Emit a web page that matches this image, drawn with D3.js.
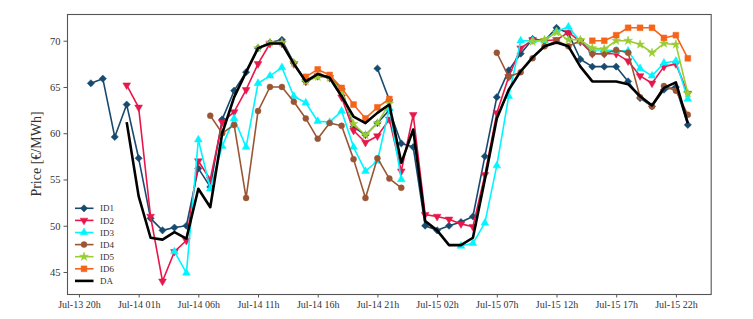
<!DOCTYPE html>
<html>
<head>
<meta charset="utf-8">
<script src="https://cdn.jsdelivr.net/npm/d3@7"></script>
<style>
  body { margin: 0; background: #fff; }
  svg text { font-family: "Liberation Serif", "DejaVu Serif", serif; }
</style>
</head>
<body>
<div id="canvas"></div>
<script>
// hours counted from Jul-13 20h, data runs Jul-13 21h .. Jul-15 23h
var hours = d3.range(1, 52);
var tickHours = [0, 5, 10, 15, 20, 25, 30, 35, 40, 45, 50];
var tickLabels = ["Jul-13 20h", "Jul-14 01h", "Jul-14 06h", "Jul-14 11h", "Jul-14 16h", "Jul-14 21h",
                  "Jul-15 02h", "Jul-15 07h", "Jul-15 12h", "Jul-15 17h", "Jul-15 22h"];
var yTicks = [45, 50, 55, 60, 65, 70];

var id1 = [65.4, 65.9, 59.6, 63.1, 57.3, 50.8, 49.5, 49.8, 50.0, 56.2,
           54.2, 61.5, 64.6, 66.6, 69.2, 69.8, 70.1, 67.6, 65.6, 66.2,
           66.0, 64.8, 60.7, 59.8, 61.1, 62.5, 58.9, 58.5, 50.0, 49.5,
           50.0, 50.4, 51.0, 57.5, 63.9, 66.8, 68.6, 70.2, 70.0, 71.4,
           70.8, 68.0, 67.2, 67.2, 67.2, 65.6, 63.8, 62.9, 64.7, 65.0, 60.9];
// short extra ID1 piece at Jul-14 21h/22h
var id1bHours = [25, 26];
var id1b = [67.0, 63.6];

var id2 = [null, null, null, 65.2, 62.8, 51.0, 44.0, 47.2, 48.4, 57.0,
           55.0, 61.2, 62.3, 64.7, 67.5, 69.7, 69.7, 67.5, 65.6, 66.2,
           66.0, 63.9, 60.3, 59.0, 59.7, 61.5, 55.9, 62.0, 51.2, 51.0,
           50.7, 50.2, 49.9, 55.5, 62.2, 66.1, 69.2, 70.1, 70.0, 70.1,
           70.9, 69.9, 68.6, 68.6, 68.6, 67.8, 66.2, 65.4, 67.2, 67.5, 64.3];

var id3 = [null, null, null, null, null, null, null, 47.2, 44.9, 59.3,
           54.0, 58.6, 61.6, 58.5, 65.4, 66.2, 67.1, 64.0, 63.3, 61.3,
           61.2, 62.4, 58.5, 55.9, 57.0, 62.7, 55.0, null, null, null,
           null, 47.8, 48.1, 50.3, 56.5, 64.0, 70.0, 70.0, 70.0, 71.0,
           71.5, 69.9, 69.0, 69.0, 68.9, 68.9, 67.0, 66.2, 67.6, 67.8, 63.7];

var id4 = [null, null, null, null, null, null, null, null, null, null,
           61.9, 60.0, 60.9, 53.0, 62.4, 65.0, 65.0, 63.4, 61.6, 59.4,
           61.1, 60.8, 57.2, 53.0, 57.3, 55.1, 54.1, null, null, null,
           null, null, null, null, 68.7, 66.1, 66.6, 68.1, 69.4, 70.0,
           69.4, 70.0, 68.6, 68.6, 69.0, 68.7, 63.9, 62.9, 65.1, 64.6, 62.0];

var id5 = [null, null, null, null, null, null, null, null, null, null,
           null, null, null, null, 69.2, 69.8, 69.8, 67.6, 65.6, 66.1,
           66.0, 64.6, 61.0, 59.8, 61.1, 63.2, null, null, null, null,
           null, null, null, null, null, null, null, 69.9, 70.1, 70.9,
           70.1, 70.1, 69.2, 69.1, 70.0, 70.0, 69.6, 68.7, 69.7, 69.6, 64.3];

var id6 = [null, null, null, null, null, null, null, null, null, null,
           null, null, null, null, null, null, null, null, 66.1, 66.9,
           66.3, 64.9, 63.1, 61.6, 62.8, 63.7, null, null, null, null,
           null, null, null, null, null, null, null, null, null, null,
           null, null, 70.0, 70.0, 70.6, 71.4, 71.4, 71.4, 70.3, 70.6, 68.1];

var da = [null, null, null, 61.2, 53.2, 48.7, 48.5, 49.3, 48.6, 54.0,
          52.0, 60.0, 63.9, 66.6, 69.2, 69.7, 69.7, 67.5, 65.6, 66.4,
          66.0, 64.0, 61.8, 61.1, 62.2, 63.1, 56.8, 60.4, 50.5, 49.5,
          47.9, 47.9, 48.7, 55.0, 61.6, 64.7, 66.7, 68.2, 69.4, 69.8,
          69.4, 67.2, 65.6, 65.6, 65.6, 65.3, 64.0, 63.0, 64.9, 65.5, 61.1];

var w = 753, h = 319;
var padL = 67, padR = 711.7, padT = 14, padB = 294;

var svg = d3.select("#canvas").append("svg").attr("width", w).attr("height", h);

var x = d3.scaleLinear().domain([-1, 53]).range([padL, padR]);
var y = d3.scaleLinear().domain([42.62, 72.89]).range([padB, padT]);

var tri = d3.symbol().type(d3.symbolTriangle).size(26);
var shapes = {
  diamond: { path: d3.symbol().type(d3.symbolSquare).size(26)(), rot: 45 },
  down: { path: tri(), rot: 180 },
  up: { path: tri(), rot: 0 },
  circle: { path: d3.symbol().type(d3.symbolCircle).size(28)(), rot: 0 },
  star: { path: d3.symbol().type(d3.symbolStar).size(24)(), rot: 0 },
  square: { path: d3.symbol().type(d3.symbolSquare).size(34)(), rot: 0 }
};

var series = [
  { name: "ID1", vals: id1, col: "#174a6e", shape: "diamond" },
  { name: "ID2", vals: id2, col: "#e8174b", shape: "down" },
  { name: "ID3", vals: id3, col: "#00f5ff", shape: "up" },
  { name: "ID4", vals: id4, col: "#9a5634", shape: "circle" },
  { name: "ID5", vals: id5, col: "#9acd32", shape: "star" },
  { name: "ID6", vals: id6, col: "#f4651a", shape: "square" },
  { name: "DA", vals: da, col: "#000000", shape: null }
];

var line = d3.line()
  .defined(function(d) { return d[1] != null; })
  .x(function(d) { return x(d[0]); })
  .y(function(d) { return y(d[1]); });

function drawMarkers(g, pts, s) {
  var sh = shapes[s.shape];
  g.selectAll(null).data(pts.filter(function(d) { return d[1] != null; }))
    .enter().append("path")
    .attr("d", sh.path)
    .attr("transform", function(d) { return "translate(" + x(d[0]) + "," + y(d[1]) + ") rotate(" + sh.rot + ")"; })
    .style("fill", s.col)
    .style("stroke", s.col)
    .style("stroke-width", 0.5);
}

var plot = svg.append("g");

series.forEach(function(s) {
  var g = plot.append("g");
  var pts = hours.map(function(hr, i) { return [hr, s.vals[i]]; });
  var isDA = s.shape == null;
  g.append("path").datum(pts).attr("d", line)
    .style("fill", "none")
    .style("stroke", s.col)
    .style("stroke-width", isDA ? 2.6 : 1.6)
    .style("stroke-linejoin", "round");
  if (s.name == "ID1") {
    var extra = id1bHours.map(function(hr, i) { return [hr, id1b[i]]; });
    g.append("path").datum(extra).attr("d", line)
      .style("fill", "none").style("stroke", s.col).style("stroke-width", 1.6);
    drawMarkers(g, extra, s);
  }
  if (!isDA) drawMarkers(g, pts, s);
});

// frame
svg.append("rect")
  .attr("x", padL + 0.5).attr("y", padT + 0.5)
  .attr("width", padR - padL - 1).attr("height", padB - padT)
  .style("fill", "none").style("stroke", "#555").style("stroke-width", 1.1);

// axes
var xAxis = d3.axisBottom(x).tickValues(tickHours)
  .tickFormat(function(d, i) { return tickLabels[i]; })
  .tickSizeInner(3.5).tickSizeOuter(0).tickPadding(3.5);
var gx = svg.append("g").attr("transform", "translate(0," + padB + ")").call(xAxis);
gx.select(".domain").remove();
gx.selectAll("text").style("font-size", "10px").style("fill", "#333")
  .style("font-family", "Liberation Serif, serif");
gx.selectAll("line").style("stroke", "#555");

var yAxis = d3.axisLeft(y).tickValues(yTicks).tickSizeInner(3.5).tickSizeOuter(0).tickPadding(3);
var gy = svg.append("g").attr("transform", "translate(" + padL + ",0)").call(yAxis);
gy.select(".domain").remove();
gy.selectAll("text").style("font-size", "10.5px").style("fill", "#333")
  .style("font-family", "Liberation Serif, serif");
gy.selectAll("line").style("stroke", "#555");

svg.append("text")
  .attr("transform", "translate(41," + (padT + padB) / 2 + ") rotate(-90)")
  .attr("text-anchor", "middle")
  .style("font-size", "14px").style("fill", "#333")
  .text("Price [€/MWh]");

// legend
var leg = svg.append("g");
series.forEach(function(s, i) {
  var ly = 208.3 + i * 12.1;
  var isDA = s.shape == null;
  leg.append("line").attr("x1", 75).attr("x2", 93.5).attr("y1", ly).attr("y2", ly)
    .style("stroke", s.col).style("stroke-width", isDA ? 2.6 : 1.6);
  if (!isDA) {
    var sh = shapes[s.shape];
    leg.append("path").attr("d", sh.path)
      .attr("transform", "translate(84," + ly + ") rotate(" + sh.rot + ")")
      .style("fill", s.col).style("stroke", s.col).style("stroke-width", 0.5);
  }
  leg.append("text").attr("x", 100).attr("y", ly).attr("dy", "0.35em")
    .style("font-size", "9px").style("fill", "#333").text(s.name);
});
</script>
</body>
</html>
